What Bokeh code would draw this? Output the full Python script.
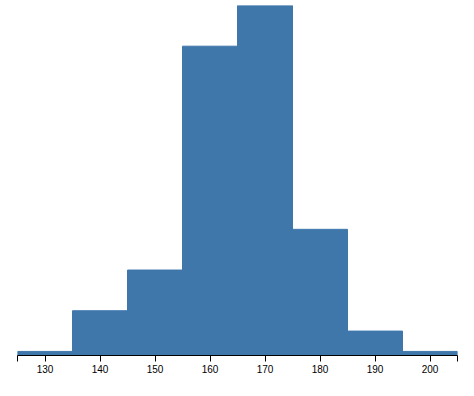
from bokeh.plotting import figure
from bokeh.models import Range1d, FixedTicker
from bokeh.embed import file_html
from bokeh.resources import INLINE

bin_starts = [125, 135, 145, 155, 165, 175, 185, 195]
bin_width = 10
counts = [1, 11, 21, 76, 86, 31, 6, 1]
tick_values = [125, 130, 140, 150, 160, 170, 180, 190, 200, 205]
tick_labels = {125: "", 205: ""}

p = figure(width=474, height=396, output_backend="svg", toolbar_location=None,
           x_range=Range1d(125, 205), y_range=Range1d(0, 86),
           min_border_left=17, min_border_right=17, min_border_top=5, min_border_bottom=41)

lefts = bin_starts
rights = [b + bin_width for b in bin_starts]
p.quad(left=lefts, right=rights, bottom=[0] * len(counts), top=counts,
       fill_color="#3f77ab", line_color="#3f77ab", line_width=1)

p.yaxis.visible = False
p.xgrid.visible = False
p.ygrid.visible = False
p.outline_line_color = None
p.background_fill_color = "white"
p.border_fill_color = "white"

ax = p.xaxis[0]
ax.ticker = FixedTicker(ticks=tick_values)
ax.major_label_overrides = {k: v for k, v in tick_labels.items()}
ax.minor_tick_line_color = None
ax.major_tick_out = 6
ax.major_tick_in = 0
ax.major_tick_line_color = "black"
ax.axis_line_color = "black"
ax.major_label_standoff = 3
ax.major_label_text_font = "Liberation Sans"
ax.major_label_text_font_size = "10px"
ax.major_label_text_color = "black"

open("out.html", "w").write(file_html(p, INLINE))
